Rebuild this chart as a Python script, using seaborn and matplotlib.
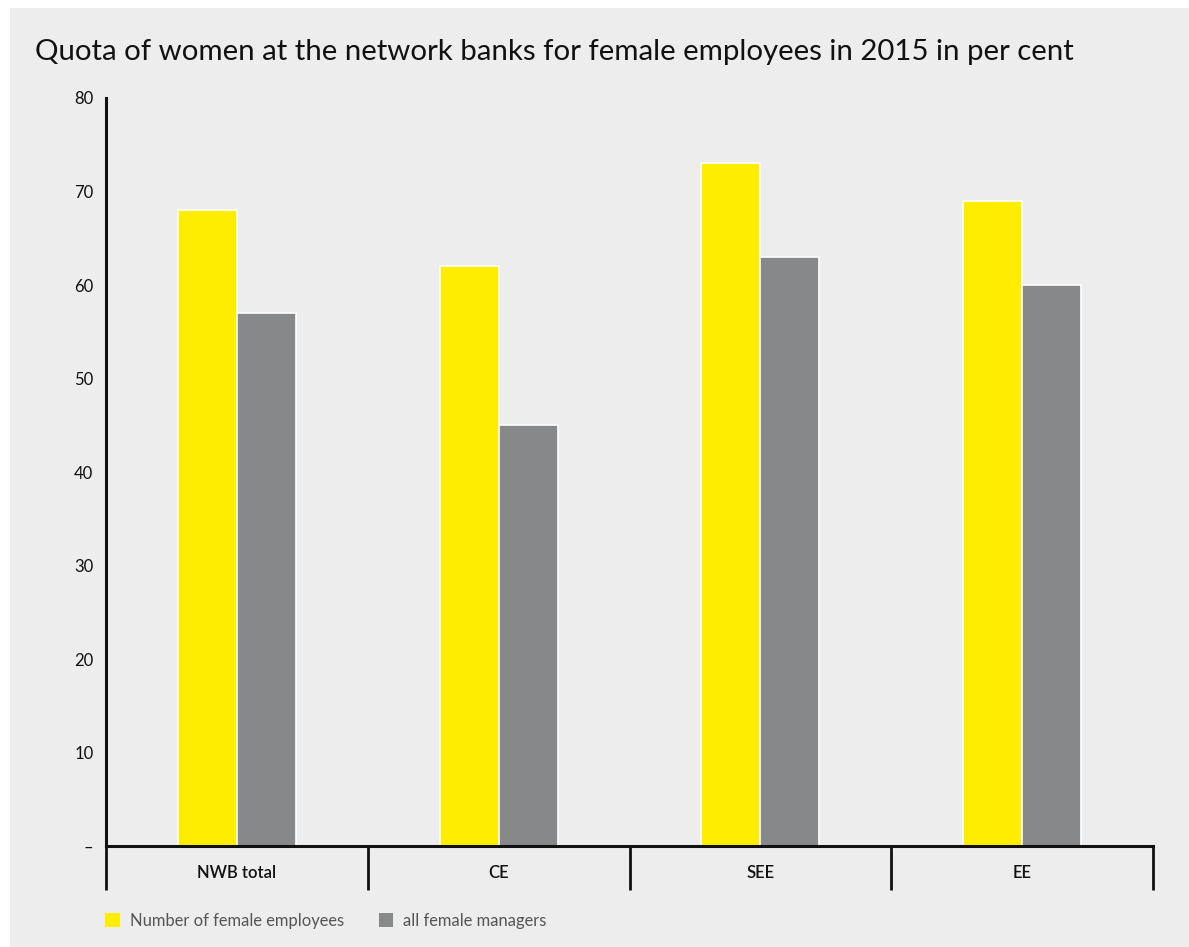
import matplotlib
matplotlib.use("Agg")
import matplotlib.pyplot as plt
from matplotlib.patches import Rectangle
from matplotlib.ticker import FixedLocator
import seaborn as sns
import pandas as pd

title = "Quota of women at the network banks for female employees in 2015 in per cent"
categories = ["NWB total", "CE", "SEE", "EE"]
series_names = ["Number of female employees", "all female managers"]
female_employees = [68, 62, 73, 69]
female_managers = [57, 45, 63, 60]
y_ticks = [0, 10, 20, 30, 40, 50, 60, 70, 80]
y_tick_labels = ["–", "10", "20", "30", "40", "50", "60", "70", "80"]

df = pd.DataFrame({
    "category": categories * 2,
    "series": [series_names[0]] * 4 + [series_names[1]] * 4,
    "value": female_employees + female_managers,
})

BG = "#ECEDEC"
YELLOW = "#FFED00"
GREY = "#87888A"

sns.set_theme(style="white")
plt.rcParams["font.family"] = ["Lato", "DejaVu Sans"]

W, H = 1189, 947
fig = plt.figure(figsize=(W / 100, H / 100), dpi=100)
fig.patch.set_facecolor("white")
fig.patches.append(Rectangle((10 / W, 0), 1 - 10 / W, 1 - 8 / H,
                             transform=fig.transFigure, facecolor=BG,
                             edgecolor="none", zorder=-10))

ax = fig.add_axes([106 / W, (H - 846) / H, (1153 - 106) / W, (846 - 98) / H])
ax.set_facecolor(BG)

sns.barplot(data=df, x="category", y="value", hue="series",
            palette=[YELLOW, GREY], saturation=1, width=0.45, gap=0,
            edgecolor="white", linewidth=1.2, ax=ax, legend=False)

ax.set_xlim(-0.5, 3.5)
ax.set_ylim(0, 80)
ax.set_xlabel("")
ax.set_ylabel("")

for s in ["top", "right"]:
    ax.spines[s].set_visible(False)
for s in ["left", "bottom"]:
    ax.spines[s].set_linewidth(2.2)
    ax.spines[s].set_color("#111111")

ax.set_yticks(y_ticks)
ax.set_yticklabels(y_tick_labels, fontsize=12, color="#111111")
ax.tick_params(axis="y", length=0, pad=9)

ax.set_xticks(range(len(categories)))
ax.set_xticklabels(categories, fontsize=12, color="#111111", fontweight="semibold")
ax.tick_params(axis="x", which="major", length=0, pad=14)
ax.xaxis.set_minor_locator(FixedLocator([-0.5, 0.5, 1.5, 2.5, 3.5]))
ax.tick_params(axis="x", which="minor", bottom=True, length=32, width=2.0,
               color="#111111", direction="out")

fig.text(35 / W, 1 - 52 / H, title, fontsize=21.2, color="#111111",
         ha="left", va="center")

# legend
handles = [Rectangle((0, 0), 1, 1, facecolor=YELLOW, edgecolor="none"),
           Rectangle((0, 0), 1, 1, facecolor=GREY, edgecolor="none")]
leg = fig.legend(handles, series_names, loc="center left",
                 bbox_to_anchor=(90 / W, 1 - 921 / H), ncol=2, frameon=False,
                 fontsize=11.9, handlelength=0.9, handleheight=0.9,
                 handletextpad=0.6, columnspacing=2.1)
for t in leg.get_texts():
    t.set_color("#555555")

fig.savefig("out.png", dpi=100, facecolor=fig.get_facecolor())
